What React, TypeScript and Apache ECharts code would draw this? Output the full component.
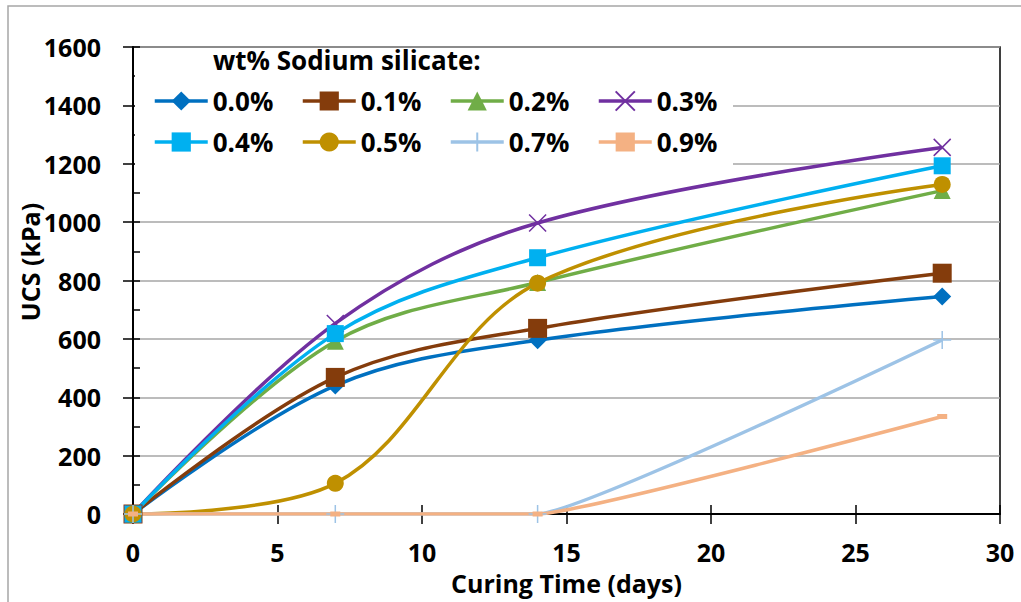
import React, { useEffect, useRef } from "react";
import * as echarts from "echarts";

// ---- data ----
const days = [0, 7, 14, 28];
const seriesNames = ["0.0%", "0.1%", "0.2%", "0.3%", "0.4%", "0.5%", "0.7%", "0.9%"];
const ucs00 = [0, 440, 595, 745];
const ucs01 = [0, 468, 636, 825];
const ucs02 = [0, 592, 793, 1108];
const ucs03 = [0, 653, 997, 1256];
const ucs04 = [0, 618, 878, 1193];
const ucs05 = [0, 105, 791, 1129];
const ucs07 = [0, 0, 0, 596];
const ucs09 = [0, 0, 0, 334];
const allValues = [ucs00, ucs01, ucs02, ucs03, ucs04, ucs05, ucs07, ucs09];

const xMin = 0, xMax = 30, xStep = 5;
const yMin = 0, yMax = 1600, yStep = 200, yMinorStep = 100;

const legendTitle = "wt% Sodium silicate:";
const xName = "Curing Time (days)";
const yName = "UCS (kPa)";

// ---- styles ----
const colors = ["#0070C0", "#843C0C", "#70AD47", "#7030A0", "#00B0F0", "#BF9000", "#9DC3E6", "#F4B183"];
const symbols = [
  "diamond",
  "rect",
  "triangle",
  "path://M0,0L10,10M10,0L0,10",
  "rect",
  "circle",
  "path://M5,0L5,10M0,5L10,5",
  "rect",
];
const symbolSizes: any[] = [18, 19, 17, 17, 17, 17, 18, [10, 5]];
const smoothness = [0.35, 0.35, 0.35, 0.35, 0.35, 0.35, 0.1, 0.1];
const strokeSymbol = [false, false, false, true, false, false, true, false];
const legendPos = [
  [153, 88], [301, 88], [449, 88], [597, 88],
  [153, 129], [301, 129], [449, 129], [597, 129],
];

const FONT = "'Open Sans', Lato, sans-serif";

export default function App() {
  const ref = useRef<HTMLDivElement>(null);
  useEffect(() => {
    if (!ref.current) return;
    const chart = echarts.init(ref.current, undefined, { renderer: "svg" });
    const series = seriesNames.map((name, i) => ({
      name,
      type: "line",
      xAxisIndex: 0,
      yAxisIndex: 0,
      data: days.map((d, j) => [d, allValues[i][j]]),
      smooth: smoothness[i],
      symbol: symbols[i],
      symbolSize: symbolSizes[i],
      showSymbol: true,
      lineStyle: { color: colors[i], width: 3.5 },
      itemStyle: strokeSymbol[i]
        ? { color: colors[i], borderColor: colors[i], borderWidth: 1.5 }
        : { color: colors[i], borderWidth: 0 },
      emphasis: { disabled: true },
      z: 3,
    }));
    const legends = seriesNames.map((name, i) => ({
      data: [name],
      left: legendPos[i][0],
      top: legendPos[i][1],
      itemWidth: 53,
      itemHeight: 24,
      itemGap: 0,
      padding: 0,
      selectedMode: false,
      lineStyle: { width: 3.5 },
      textStyle: { fontFamily: FONT, fontWeight: "bold", fontSize: 26, color: "#000" },
    }));
    chart.setOption({
      animation: false,
      backgroundColor: "#fff",
      grid: {
        left: 133, right: 21, top: 47, bottom: 88,
        show: true, borderColor: "#000", borderWidth: 1.5, backgroundColor: "transparent",
      },
      legend: legends,
      xAxis: [
        {
          type: "value", min: xMin, max: xMax, interval: xStep, position: "bottom",
          name: xName, nameLocation: "middle", nameGap: 53,
          nameTextStyle: { fontFamily: FONT, fontWeight: "bold", fontSize: 25, lineHeight: 26, color: "#000" },
          axisLine: { show: true, lineStyle: { color: "#000", width: 2 } },
          axisTick: { show: true, inside: false, length: 10, lineStyle: { color: "#000", width: 1.5 } },
          axisLabel: { margin: 25, fontFamily: FONT, fontWeight: "bold", fontSize: 25, lineHeight: 26, color: "#000" },
          splitLine: { show: false },
        },
        {
          type: "value", min: xMin, max: xMax, interval: xStep, position: "bottom",
          axisLine: { show: false },
          axisTick: { show: true, inside: true, length: 9, lineStyle: { color: "#000", width: 1.5 } },
          axisLabel: { show: false },
          splitLine: { show: false },
        },
      ],
      yAxis: [
        {
          type: "value", min: yMin, max: yMax, interval: yStep, position: "left",
          axisLine: { show: true, lineStyle: { color: "#000", width: 2 } },
          axisTick: { show: true, inside: false, length: 10, lineStyle: { color: "#000", width: 1.5 } },
          axisLabel: {
            margin: 32, fontFamily: FONT, fontWeight: "bold", fontSize: 25, color: "#000",
            formatter: (v: number) => String(v),
          },
          splitLine: { show: true, lineStyle: { color: "#A6A6A6", width: 1.5 } },
        },
        {
          type: "value", min: yMin, max: yMax, interval: yMinorStep, position: "left",
          axisLine: { show: false },
          axisTick: { show: true, inside: true, length: 7, lineStyle: { color: "#000", width: 1.5 } },
          axisLabel: { show: false },
          splitLine: { show: false },
        },
      ],
      graphic: [
        {
          type: "rect", z: -1, silent: true,
          shape: { x: 8, y: 6, width: 1040, height: 700 },
          style: { fill: "none", stroke: "#A6A6A6", lineWidth: 1.5 },
        },
        {
          type: "rect", z: 1, silent: true,
          shape: { x: 135, y: 49, width: 598, height: 121 },
          style: { fill: "#fff" },
        },
        {
          type: "text", z: 2, left: 213, top: 47,
          style: { text: legendTitle, fontFamily: FONT, fontWeight: "bold", fontSize: 26, fill: "#000" },
        },
        {
          type: "text", z: 2, x: 30, y: 262, rotation: Math.PI / 2,
          style: {
            text: yName, fontFamily: FONT, fontWeight: "bold", fontSize: 25, fill: "#000",
            textAlign: "center", textVerticalAlign: "middle",
          },
        },
      ],
      series,
    });
    return () => chart.dispose();
  }, []);
  return <div ref={ref} style={{ position: "fixed", left: 0, top: 0, width: 1021, height: 602 }} />;
}
